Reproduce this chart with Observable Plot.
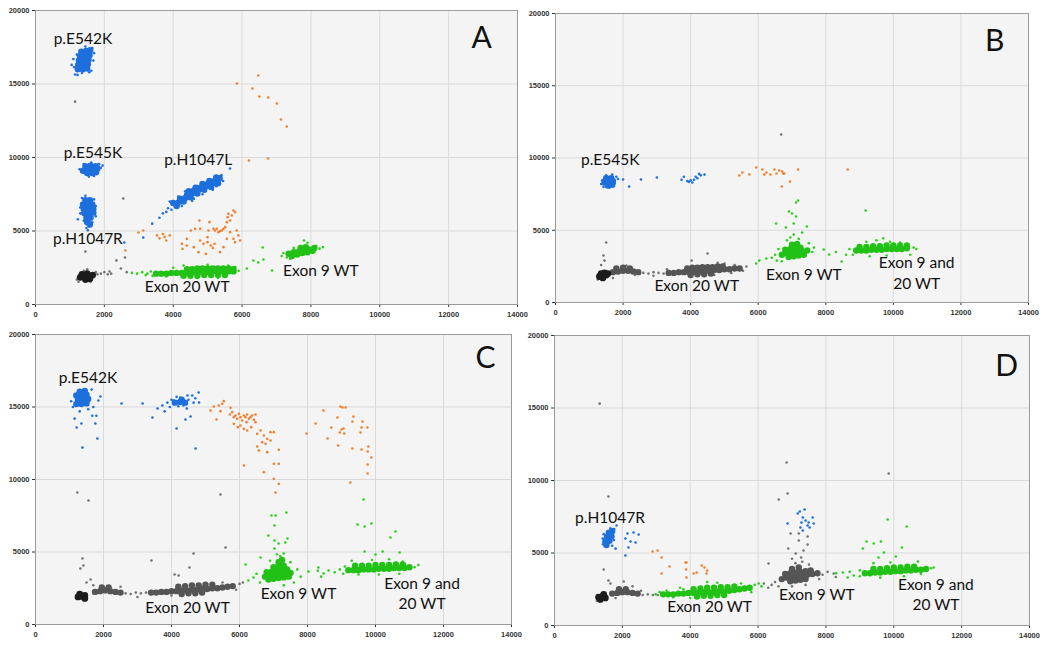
<!DOCTYPE html>
<html><head><meta charset="utf-8">
<script src="https://cdn.jsdelivr.net/npm/d3@7"></script>
<script src="https://cdn.jsdelivr.net/npm/@observablehq/plot@0.6"></script>
<style>
body{margin:0;background:#fff;width:1050px;height:649px;overflow:hidden;position:relative}
.panel{position:absolute;overflow:hidden}
</style></head><body>
<div id="pA" class="panel" style="left:0;top:0;width:535px;height:322px"></div>
<div id="pB" class="panel" style="left:520px;top:0;width:530px;height:322px"></div>
<div id="pC" class="panel" style="left:0;top:322px;width:535px;height:327px"></div>
<div id="pD" class="panel" style="left:520px;top:322px;width:530px;height:327px"></div>
<script>
const xTicks = [0,2000,4000,6000,8000,10000,12000,14000];
const yTicks = [0,5000,10000,15000,20000];

// ---------- Panel A ----------
const aBlueCore = [
 [1230,16000],[1370,16000],[1500,16050],[1240,16300],[1380,16300],[1520,16350],[1260,16600],[1400,16650],[1540,16650],[1290,16900],[1430,16950],[1570,16950],[1330,17200],[1470,17250],[1590,17300],
 [1380,9100],[1520,9200],[1660,9200],[1800,9250],[1450,9400],[1600,9450],[1750,9400],[1500,8950],[1650,8950],[1760,9000],
 [1450,7100],[1580,7100],[1380,6800],[1520,6800],[1650,6800],[1400,6500],[1540,6500],[1680,6500],[1420,6200],[1560,6200],[1680,6250],[1480,5900],[1600,5900],[1500,5600],[1580,5450],
 [4000,6900],[4100,6700],[4200,7200],[4300,7000],[4400,7450],[4500,7300],[4600,7750],[4700,7550],[4800,7950],[4900,7800],[5000,8200],[5100,8000],[5200,8400],[5300,8250],[5350,8600],
 [4150,6950],[4350,7250],[4550,7550],[4750,7800],[4950,8050],[5150,8250],[5300,8450],[4450,7700],[4650,7950],[4850,8200],[5050,8400],[5250,8650]
];
const aBlue = [
 [1050,16300],[1100,16700],[1150,15650],[1220,15620],[1560,15800],[1620,15900],[1680,16600],[1700,17100],[1650,17450],[1450,17550],[1200,17000],[1120,16150],[1350,15750],
 [1280,9200],[1900,9300],[1950,9450],[1550,8700],[1700,8750],[1400,9550],[1850,9550],[1620,9650],
 [1450,7400],[1350,7250],[1700,7150],[1750,6700],[1300,6600],[1300,6200],[1750,6000],[1400,5700],[1650,5600],[1480,5200],[1520,5050],[1560,5300],[1230,5800],
 [3600,5900],[3700,6200],[3800,6300],[3850,6550],[3950,6450],[3900,7000],[4150,7350],[4250,6700],[4450,7700],[4550,7050],[4700,8050],[4850,7500],[5050,8450],[5150,7800],[5300,8700],[5400,8800],[5450,8400],[5250,8050],[4350,7700],[4600,7200],[5650,9250],
 [3390,5500],[3130,4550],[2580,4220]
];
const aOrange = [
 [5850,15030],[6300,14690],[6470,15580],[6500,14150],[6760,14080],[7010,13670],[7130,12580],[7300,12110],[6760,9930],[6200,9800],
 [2610,3670],[2990,4900],[3130,5030],[3530,4700],[3600,4500],[3700,4800],[3750,4600],[3800,4350],[3900,4700],
 [4252,4127],[4270,3787],[4396,4014],[4512,5034],[4638,5147],[4735,3560],[4760,5714],[4783,4354],[4879,4127],[4995,4240],[5024,5034],[5053,5601],[5092,4014],[5169,5147],[5215,5034],[5266,5147],[5314,4921],[5362,5000],[5410,5034],[5459,5147],[5510,5261],[5556,5601],[5580,5941],[5604,6168],[5652,5714],[5700,6050],[5749,6395],[5797,6280],[5749,4467],[5797,4240],[5845,5034],[5893,4700],[5942,4354],[5652,4921],[5556,4467],[5459,3900],[5362,3560],[5150,3850],[5200,4127],[4950,3447],[4600,3900],[4396,4467],[4783,5147],[4995,4581]
];
const aGreenCore = [
 [3500,2100],[3650,2100],[3800,2100],[3950,2150],[4100,2150],[4250,2150],[4400,2150],[4550,2200],[4700,2200],[4850,2200],[5000,2200],[5150,2250],[5300,2250],[5450,2250],[5600,2250],[5750,2250],
 [4400,2400],[4550,2400],[4700,2450],[4850,2450],[5000,2450],[5150,2450],[5300,2450],[5450,2450],[5600,2450],[5750,2400],
 [4300,1950],[4500,1950],[4700,1950],[4900,2000],[5100,2000],[5300,2000],[5500,2000],
 [7350,3450],[7500,3550],[7650,3600],[7800,3700],[7950,3750],[8100,3850],[7450,3300],[7600,3400],[7750,3500],[7900,3550],[8050,3650],[7700,3850],[7850,3900]
];
const aGreen = [
 [2800,2150],[2950,2100],[3100,2200],[3250,2100],[3350,2250],[3200,2000],[3400,1950],[4000,2500],[4300,2650],[5000,2700],[5600,2650],[5800,2550],[5900,2300],[4700,1800],[5300,1800],[3800,1900],
 [6140,2450],[6330,2990],[6470,2860],[6600,3880],[6620,3060],[6870,2310],
 [7200,3500],[7150,3300],[7300,3200],[8250,3800],[8350,3900],[7800,4350],[7900,4200],[7500,3850],[7400,3100],[8150,4000]
];
const aGrayDark = [[1300,1850],[1420,1900],[1540,1950],[1660,2000],[1350,2050],[1500,2100],[1450,1700],[1580,1750]];
const aGrayCore = [];
const aGray = [
 [1150,13800],[1330,6200],[1200,1700],[1750,2200],[1800,2050],[1900,2100],[2000,2200],[2100,2050],[2200,2100],[1500,2400],[1400,2300],[1250,1550],[1600,1550],[1450,3600],[2550,7210],[2350,3000],[2600,3200],[2480,2450],[2650,2200],[2150,2250]
];
const aLabels = [
 {text:"p.E542K",x:1377,y:18080},{text:"p.E545K",x:1667,y:10270},{text:"p.H1047R",x:1522,y:4420},
 {text:"p.H1047L",x:4725,y:9800},{text:"Exon 20 WT",x:4406,y:1156},{text:"Exon 9 WT",x:8290,y:2245}
];
const aLetter = {text:"A",x:12957,y:18070};

// ---------- Panel B ----------
const bBlueCore = [[1450,8300],[1580,8350],[1700,8400],[1500,8600],[1650,8600],[1550,8100],[1680,8150]];
const bBlue = [
 [1380,8450],[1800,8700],[1850,8550],[1420,8000],[1600,7950],[1750,8250],[1500,8800],[1680,8850],[1350,8200],
 [2000,8510],[2180,8030],[2530,8510],[3000,8650],[3730,8500],[3800,8700],[3900,8400],[3950,8350],[4000,8450],[4100,8500],[4150,8700],[4250,8900],[4300,8800],[4410,8850],[4200,8600],[4050,8300]
];
const bOrange = [
 [5440,8790],[5530,9000],[5740,8860],[5940,9340],[6120,9200],[6180,8860],[6240,9000],[6360,8860],[6480,9200],[6540,8930],[6620,9130],[6770,8930],[6710,9070],[6740,8930],[6940,8370],[7180,9200],[6700,8030],[8650,9200]
];
const bGreenCore = [
 [6700,3300],[6850,3400],[7000,3450],[7150,3500],[7300,3550],[7450,3600],[6800,3650],[6950,3700],[7100,3750],[7250,3800],[6900,3150],[7050,3200],[7200,3250],[7350,3300],[7000,4000],[7150,4050],
 [8900,3600],[9050,3600],[9200,3600],[9350,3650],[9500,3650],[9650,3650],[9800,3700],[9950,3700],[10100,3700],[10250,3700],[10400,3750],
 [9000,3850],[9200,3850],[9400,3900],[9600,3900],[9800,3950],[10000,3950],[10200,3950],[10400,3950]
];
const bGreen = [
 [6030,2900],[5940,2700],[6240,3050],[6400,3100],[6500,3300],[6550,2900],[6600,3700],[7600,3500],[7650,3800],[7500,4100],[6850,4300],[7200,4400],[7050,4700],[6950,4500],[6530,5470],[6820,5190],[7120,6920],[7180,7060],[6910,6300],[7000,6160],[7120,5950],[7050,5470],[7440,5260],[7300,4840],[6700,2850],
 [7940,3670],[8100,3320],[8300,3500],[8470,2840],[8600,3300],[8700,3700],[9180,6370],[9500,4300],[9700,4450],[9900,4200],[10500,3300],[10600,3800],[10680,3700],[10200,4150],[9300,3200],[9800,3250],[8800,3300],[9200,4200]
];
const bGrayDark = [[1300,1800],[1400,1850],[1500,1900],[1350,2000],[1450,2050],[1550,2000],[1400,1700]];
const bGrayCore = [
 [1700,2100],[1850,2150],[2000,2200],[2150,2200],[2300,2150],[2450,2100],[1800,2350],[2000,2400],[2200,2350],
 [3350,2050],[3500,2050],[3650,2100],[3800,2100],[3950,2100],[4100,2150],[4250,2150],[4400,2200],[4550,2200],[4700,2250],[4850,2250],[5000,2300],[5150,2300],[5300,2350],[5450,2350],
 [3900,2350],[4050,2400],[4200,2400],[4350,2450],[4500,2450],[4650,2450],[4800,2500],[4950,2500],
 [4000,1900],[4200,1950],[4400,1950],[4600,2000]
];
const bGray = [
 [2600,2050],[2750,2000],[2900,2100],[3050,2050],[3200,2000],
 [1500,4150],[1420,3250],[1450,2900],[1350,2600],[1250,1600],[1700,1700],[2100,2550],[2350,1900],[4500,3390],[4030,2900],[4800,2750],[5000,2700],[5300,2600],[5550,2200],[5650,2490],[3300,2300],[2900,1850],[5200,2050],[4700,1900],[6680,11630]
];
const bLabels = [
 {text:"p.E545K",x:1620,y:9830},{text:"Exon 20 WT",x:4180,y:1107},{text:"Exon 9 WT",x:7350,y:1870},
 {text:"Exon 9 and",x:10690,y:2700},{text:"20 WT",x:10690,y:1250}
];
const bLetter = {text:"B",x:13000,y:18060};

// ---------- Panel C ----------
const cBlueCore = [
 [1200,15200],[1350,15200],[1500,15250],[1250,15500],[1400,15500],[1550,15550],[1200,15800],[1350,15850],[1500,15850],[1300,16050],[1450,16100],
 [4100,15300],[4250,15350],[4400,15300],[4300,15500]
];
const cBlue = [
 [1150,14200],[1210,13590],[1350,13860],[1670,14400],[1790,14400],[1760,13860],[1820,12830],[1380,12200],[1850,15450],[1910,15720],[1100,15000],[1650,16200],[1550,14850],[1300,14700],[1050,15400],[1700,15000],
 [2530,15240],[3150,15240],
 [3440,14280],[3590,14900],[3730,15100],[3880,15300],[4060,15450],[4260,15650],[4470,15790],[4610,15790],[4800,16000],[4810,15310],[4150,13520],[4410,14140],[4560,14340],[4710,12140],
 [3950,15000],[4000,15500],[4150,15700],[4350,15100],[4500,15500],[4650,15300],[4700,15600],[3800,14700],[4200,15050],[4450,14900]
];
const cOrange = [
 [5147,14759],[5245,15034],[5392,15103],[5490,15218],[5539,15402],[5441,14713],[5324,14138],[5735,14943],[5716,14483],[5784,14644],[5833,14299],[5882,14414],[5931,14184],[5980,14529],[6029,14299],[6078,14069],[6127,14414],[6176,14299],[6225,14483],[6275,14184],[6324,14299],[6373,14414],[6422,14115],[6471,14483],[6206,13954],[5833,13839],[5951,13609],[6029,13724],[6127,13494],[6225,13379],[6343,13609],[6471,13954],[6520,13149],[6618,13379],[6716,13034],[6814,12804],[6912,13264],[7010,13264],[6667,12575],[6765,12460],[6912,12690],[6520,12276],[6569,12000],[6814,11885],[7157,12046],[7010,11080],[7157,11080],[6127,10966],[6716,10506],[7010,10046],[7157,9701],[7060,9100],
 [7970,13170],[8240,13860],[8470,14760],[8590,12830],[8700,13590],[8880,14280],[8900,12340],[8970,15030],[9030,14970],[8950,13240],[9000,13450],
 [9120,14970],[9060,13520],[9080,13170],[9350,14340],[9320,14000],[9620,14000],[9590,13590],[9760,13590],[9560,13240],[9320,12140],[9590,12070],[9790,12280],[9770,11930],[9880,11520],[9770,11030],[9770,10410],[9260,9790]
];
const cGreenCore = [
 [6750,3300],[6900,3350],[7050,3400],[7200,3450],[7350,3500],[7500,3550],[6800,3600],[6950,3650],[7100,3700],[7250,3750],[7400,3800],[7000,3950],[7150,4000],[7300,4050],[6850,3100],[7000,3150],[7150,3200],[7300,3250],[7450,3300],[7150,4300],[7250,4450],
 [9200,3750],[9350,3750],[9500,3750],[9650,3800],[9800,3800],[9950,3800],[10100,3850],[10250,3850],[10400,3850],[10550,3900],[10700,3900],[10850,3900],[11000,3950],
 [9400,4050],[9600,4050],[9800,4050],[10000,4100],[10200,4100],[10400,4100],[10600,4150],[10800,4150]
];
const cGreen = [
 [6940,7520],[7060,7520],[7030,6830],[7380,7720],[6850,6140],[7030,5790],[7150,5590],[7350,5660],[7410,5930],[7030,5240],[6620,4620],[6180,4140],[6410,3240],[6260,3030],[8030,3650],[8320,3930],[8470,3520],[7200,4700],[7300,4900],[7100,4850],[6900,4400],[7500,4300],[7700,3800],[7800,3300],[6500,3500],[6600,2900],[7600,2900],[7300,2700],
 [8620,3720],[8800,3600],[8950,3800],[9050,3500],[9100,4000],[11150,3950],[11260,4100],[9650,8620],[9470,6900],[9680,6760],[9880,6970],[10590,6410],[10440,6000],[9680,5030],[10210,5030],[10710,4970],[10000,4830],[9300,4400],[9900,4450],[10400,4500],[10800,4350],[9500,3450],[10100,3450],[10700,3500],[8400,3300],[8300,3700]
];
const cGrayDark = [[1250,1900],[1350,1950],[1450,2000],[1300,2100],[1450,1800]];
const cGrayCore = [
 [1750,2250],[1900,2300],[2050,2350],[2200,2300],[2350,2250],[2500,2200],[1950,2550],[2150,2550],
 [3400,2200],[3550,2200],[3700,2250],[3850,2250],[4000,2300],[4150,2300],[4300,2350],[4450,2350],[4600,2400],[4750,2400],[4900,2450],[5050,2450],[5200,2500],[5350,2500],[5500,2550],[5650,2600],[5800,2650],
 [4200,2600],[4400,2650],[4600,2700],[4800,2700],[5000,2750],[5200,2750],[4300,2100],[4500,2150],[4700,2150],[4900,2200]
];
const cGray = [
 [2650,2150],[2800,2100],[2950,2200],[3100,2150],[3250,2200],
 [1230,9100],[1560,8550],[5440,8970],[5590,5310],[1380,4550],[1410,4070],[1320,3860],[3410,4410],[4650,4900],[4530,3930],[4090,3450],[4210,3380],[1620,3100],[1500,2900],[6000,2800],[6100,2900],[5900,2400],[3000,1900],[2500,2600],[1700,2700],[4000,2000],[5500,2900]
];
const cLabels = [
 {text:"p.E542K",x:1544,y:17030},{text:"Exon 20 WT",x:4470,y:1170},{text:"Exon 9 WT",x:7735,y:2070},
 {text:"Exon 9 and",x:11370,y:2760},{text:"20 WT",x:11370,y:1380}
];
const cLetter = {text:"C",x:13235,y:18320};

// ---------- Panel D ----------
const dBlueCore = [[1500,5800],[1620,5850],[1550,6100],[1680,6150],[1600,6400],[1700,6500],[1530,5550]];
const dBlue = [
 [1420,6000],[1430,5600],[1750,5900],[1700,5500],[1650,6700],[1760,6650],[1450,6300],[1830,6900],[2090,6000],[2150,6340],[2330,6410],[2480,6280],[2390,5720],[2240,5790],[2180,5380],[2090,4830],[1800,5300],
 [7170,7720],[7230,7860],[7370,8000],[6870,7030],[7320,7450],[7400,7240],[7610,7450],[7640,7030],[7250,6760],[7320,6550],[7460,6900],[7490,7100],[7520,6760],[7280,7100]
];
const dOrange = [
 [2890,5100],[3040,5170],[3160,4690],[3390,4070],[3160,3590],[3860,4340],[3890,4340],[3880,3860],[3890,3310],[4100,3590],[4190,3660],[4340,4140],[4420,4000],[4480,3590],[4500,3790]
];
const dGreenCore = [
 [3200,2150],[3350,2150],[3500,2150],[3650,2200],[3800,2200],[3950,2250],[4100,2250],[4250,2250],[4400,2300],[4550,2300],[4700,2300],[4850,2350],[5000,2350],[5150,2400],[5300,2450],[5450,2500],[5600,2550],[5750,2600],
 [4100,2500],[4300,2550],[4500,2600],[4700,2600],[4900,2650],[5100,2650],[5300,2700],
 [4200,2000],[4400,2050],[4600,2050],[4800,2100],[5000,2100],
 [9150,3600],[9300,3600],[9450,3650],[9600,3650],[9750,3700],[9900,3700],[10050,3750],[10200,3750],[10350,3800],[10500,3800],[10650,3850],[10800,3850],[10950,3900],
 [9400,3900],[9600,3900],[9800,3950],[10000,4000],[10200,4000],[10400,4050],[10600,4050]
];
const dGreen = [
 [2980,2150],[3100,2300],[3300,2400],[3500,1950],[3800,2500],[5900,2800],[6020,2900],[6100,2700],[5500,2900],[4500,3000],[3700,2600],[5800,2300],[4000,1900],[4800,2950],
 [8500,3660],[8640,3310],[8820,3450],[8700,3700],[9000,3400],[9000,3800],[11100,3950],[11180,4000],[9820,7310],[10380,6830],[9090,5310],[9200,5790],[9410,5660],[9620,5790],[9710,5030],[10240,5380],[9550,4690],[10060,4760],[10710,4410],[9400,4300],[9900,4350],[10300,3400],[9600,3300],[10800,3550],[8300,3600]
];
const dGrayDark = [[1300,1950],[1420,2000],[1350,1800],[1500,1900],[1450,2150]];
const dGrayCore = [
 [1700,2200],[1850,2250],[2000,2300],[2150,2300],[2300,2250],[2450,2200],[1900,2500],[2100,2500],
 [6700,3200],[6850,3300],[7000,3350],[7150,3400],[7300,3450],[7450,3500],[7600,3550],[7750,3600],[6800,3550],[6950,3600],[7100,3650],[7250,3700],[7400,3750],[7550,3800],[6950,3050],[7100,3100],[7250,3150],[7400,3200],[7000,3900],[7200,4000]
];
const dGray = [
 [2600,2100],[2750,2150],[2900,2100],[3040,2100],
 [1330,15300],[1590,8900],[1450,3860],[9850,10480],[1590,3100],[2040,3030],[1650,2900],[1250,1700],[2300,2700],[2550,2400],[1800,1900],
 [6170,2900],[6310,4280],[6400,2800],[6500,3000],[6600,2700],[6300,2600],[7900,3500],[8050,3700],[8230,3590],[8290,3350],[7800,3200],[7500,4200],[7100,4300],[7300,4400],[6840,11240],[6870,9100],[6610,8690],[6960,6340],[7200,6340],[7460,6140],[6890,5310],[7460,5590],[7200,5860],[7110,4970],[7340,5170],[7270,4690],[7000,4600],[7400,2800],[7000,2700]
];
const dLabels = [
 {text:"p.H1047R",x:1637,y:7380},{text:"Exon 20 WT",x:4570,y:1240},{text:"Exon 9 WT",x:7730,y:2070},
 {text:"Exon 9 and",x:11240,y:2760},{text:"20 WT",x:11240,y:1380}
];
const dLetter = {text:"D",x:13330,y:17900};

// ---------- drawing ----------
const BLUE = "#1d6fdc", ORANGE = "#ef8232", GREEN = "#2ad11a", GREENC = "#22c116",
      GRAY = "#747474", GRAYC = "#555555", GRAYD = "#1c1c1c";

function panel(id, geom, d) {
  const [w, h, ml, mr, mt, mb] = geom;
  const pt = (data, fill, r) => Plot.dot(data, {x: p => p[0], y: p => p[1], r, fill});
  const marks = [
    Plot.frame({fill: "#f4f4f4", stroke: null}),
    Plot.ruleX(xTicks, {stroke: "#dadada"}),
    Plot.ruleY(yTicks, {stroke: "#dadada"}),
    pt(d.gray, GRAY, 1.3), pt(d.grayCore, GRAYC, 3.2), pt(d.grayDark, GRAYD, 3.4),
    pt(d.green, GREEN, 1.3), pt(d.greenCore, GREENC, 3.2),
    pt(d.orange, ORANGE, 1.3),
    pt(d.blue, BLUE, 1.3), pt(d.blueCore, BLUE, 3.2),
    Plot.frame({stroke: "#9a9a9a"}),
    Plot.text(d.labels, {x: "x", y: "y", text: "text", fontSize: 15.5, fontWeight: "normal", fontFamily: "Lato", fill: "#111"}),
    Plot.text([d.letter], {x: "x", y: "y", text: "text", fontSize: 30, fontWeight: "normal", fontFamily: "Lato", fill: "#111"})
  ];
  const svg = Plot.plot({
    width: w, height: h, marginLeft: ml, marginRight: mr, marginTop: mt, marginBottom: mb,
    x: {domain: [0, 14000], ticks: xTicks, tickSize: 3, tickPadding: 4, tickFormat: v => String(v), label: null},
    y: {domain: [0, 20000], ticks: yTicks, tickSize: 3, tickPadding: 3, tickFormat: v => String(v), label: null},
    style: {fontFamily: "Liberation Sans, Arial, sans-serif", fontSize: "7.5px", fontWeight: "bold", color: "#333", background: "transparent", overflow: "visible"},
    marks
  });
  document.getElementById(id).appendChild(svg);
}

panel("pA", [535, 322, 35, 18, 10, 18], {blue: aBlue, blueCore: aBlueCore, orange: aOrange, green: aGreen, greenCore: aGreenCore, gray: aGray, grayCore: aGrayCore, grayDark: aGrayDark, labels: aLabels, letter: aLetter});
panel("pB", [530, 322, 35, 22, 13, 20], {blue: bBlue, blueCore: bBlueCore, orange: bOrange, green: bGreen, greenCore: bGreenCore, gray: bGray, grayCore: bGrayCore, grayDark: bGrayDark, labels: bLabels, letter: bLetter});
panel("pC", [535, 327, 35, 24, 12, 25], {blue: cBlue, blueCore: cBlueCore, orange: cOrange, green: cGreen, greenCore: cGreenCore, gray: cGray, grayCore: cGrayCore, grayDark: cGrayDark, labels: cLabels, letter: cLetter});
panel("pD", [530, 327, 34, 21, 13, 24], {blue: dBlue, blueCore: dBlueCore, orange: dOrange, green: dGreen, greenCore: dGreenCore, gray: dGray, grayCore: dGrayCore, grayDark: dGrayDark, labels: dLabels, letter: dLetter});
</script>
</body></html>
